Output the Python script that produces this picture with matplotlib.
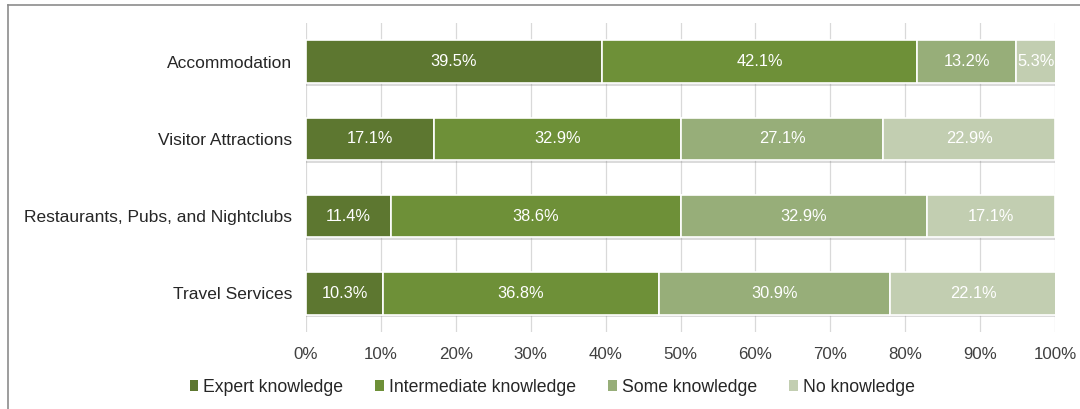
import matplotlib
matplotlib.use("Agg")
import matplotlib.pyplot as plt
import matplotlib.patheffects as pe
from matplotlib.lines import Line2D
from matplotlib.patches import Patch
import numpy as np

plt.rcParams["font.family"] = ["Liberation Sans", "DejaVu Sans"]

categories = ["Accommodation", "Visitor Attractions", "Restaurants, Pubs, and Nightclubs", "Travel Services"]
series_names = ["Expert knowledge", "Intermediate knowledge", "Some knowledge", "No knowledge"]
expert = [39.5, 17.1, 11.4, 10.3]
intermediate = [42.1, 32.9, 38.6, 36.8]
some = [13.2, 27.1, 32.9, 30.9]
none_ = [5.3, 22.9, 17.1, 22.1]
colors = ["#5D7730", "#6E9038", "#97AE79", "#C2CEB1"]
xticks = [0, 10, 20, 30, 40, 50, 60, 70, 80, 90, 100]

fig = plt.figure(figsize=(10.8, 4.09), dpi=100)
ax = fig.add_axes([306 / 1080, 1 - 332 / 409, (1055 - 306) / 1080, (332 - 23) / 409])

y = np.arange(len(categories))
left = np.zeros(len(categories))
shadow = [pe.SimplePatchShadow(offset=(0, -2), shadow_rgbFace="#888888", alpha=0.3), pe.Normal()]
for name, vals, col in zip(series_names, [expert, intermediate, some, none_], colors):
    bars = ax.barh(y, vals, left=left, height=0.55, color=col, edgecolor="white",
                   linewidth=1.2, zorder=3)
    for b in bars:
        b.set_path_effects(shadow)
    for yi, v, l in zip(y, vals, left):
        ax.text(l + v / 2, yi, f"{v:.1f}%", ha="center", va="center", color="white",
                fontsize=11.8, zorder=4)
    left = left + np.array(vals)

ax.set_xlim(0, 100)
ax.set_ylim(3.5, -0.5)
ax.set_xticks(xticks)
ax.set_xticklabels([f"{t}%" for t in xticks], fontsize=12.2, color="#404040")
ax.set_yticks(y)
ax.set_yticklabels(categories, fontsize=12.5, color="#262626")
ax.tick_params(axis="x", length=0, pad=11)
ax.tick_params(axis="y", length=0, pad=10)
ax.xaxis.grid(True, color="#D9D9D9", linewidth=0.9, zorder=0)
ax.set_axisbelow(True)
for s in ax.spines.values():
    s.set_visible(False)

handles = [Patch(facecolor=c, edgecolor="none") for c in colors]
leg = fig.legend(handles, series_names, loc="center", bbox_to_anchor=(552 / 1080, 1 - 387 / 409),
                 ncol=4, frameon=False, fontsize=12.7, handlelength=0.5, handleheight=0.55,
                 handletextpad=0.25, columnspacing=1.85)
for t in leg.get_texts():
    t.set_color("#262626")

# outer chart border
fig.add_artist(Line2D([7.5 / 1080, 7.5 / 1080], [0, 1 - 5 / 409], transform=fig.transFigure,
                      color="#8C8C8C", linewidth=1.2))
fig.add_artist(Line2D([7.5 / 1080, 1], [1 - 5 / 409, 1 - 5 / 409], transform=fig.transFigure,
                      color="#8C8C8C", linewidth=1.2))

fig.savefig("out.png", dpi=100)
